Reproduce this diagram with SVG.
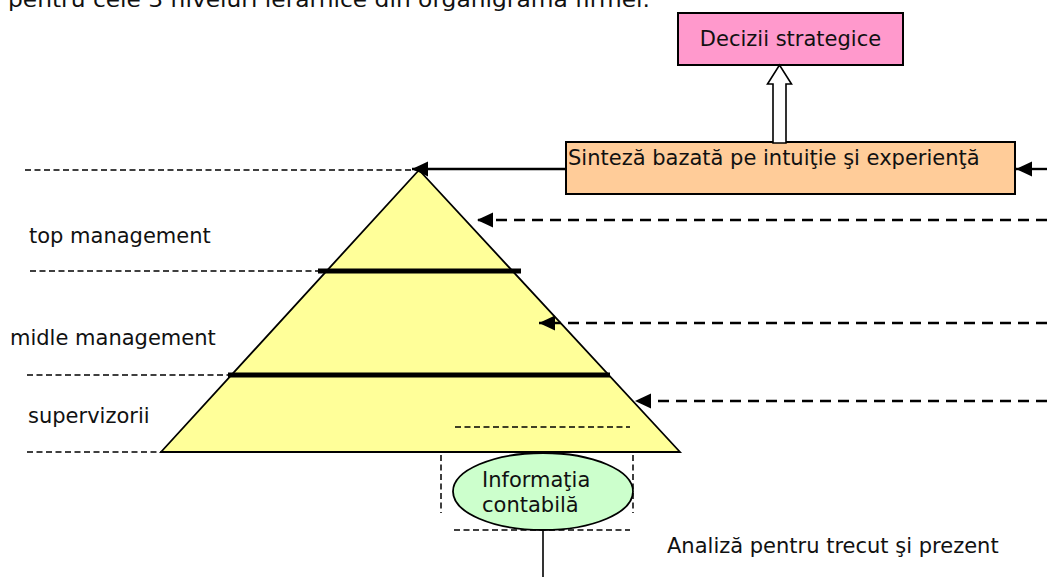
<svg xmlns="http://www.w3.org/2000/svg" width="1047" height="577" viewBox="0 0 1047 577">
  <style>
    text { font-family: "DejaVu Sans", Verdana, sans-serif; font-size: 21px; fill: #111; }
    .box { stroke: #000; stroke-width: 2; }
    .guide { fill: none; stroke: #000; stroke-width: 1.5; stroke-dasharray: 6 3.5; }
    .flow { fill: none; stroke: #000; stroke-width: 2.6; stroke-dasharray: 11 7; }
    .solid { fill: none; stroke: #000; stroke-width: 2.4; }
    .level { stroke: #000; stroke-width: 5; }
  </style>
  <defs>
    <marker id="head" markerUnits="userSpaceOnUse" markerWidth="18" markerHeight="16" refX="16" refY="7.5" orient="auto">
      <path d="M0,0 L16,7.5 L0,15 Z" fill="#000"/>
    </marker>
  </defs>
  <rect width="1047" height="577" fill="#fff"/>

  <!-- caption line running off the top edge -->
  <text x="8" y="7" font-size="23" textLength="642" lengthAdjust="spacingAndGlyphs">pentru cele 3 niveluri ierarhice din organigrama firmei.</text>

  <!-- level guides on the left -->
  <g id="guides">
    <line class="guide" x1="25" y1="170" x2="418" y2="170"/>
    <line class="guide" x1="30" y1="271" x2="320" y2="271"/>
    <line class="guide" x1="27" y1="375" x2="230" y2="375"/>
    <line class="guide" x1="27" y1="452" x2="161" y2="452"/>
  </g>

  <!-- frame round the accounting information -->
  <g id="info-frame">
    <line class="guide" x1="441" y1="455" x2="441" y2="513"/>
    <line class="guide" x1="633" y1="455" x2="633" y2="513"/>
    <line class="guide" x1="454" y1="530" x2="630" y2="530"/>
  </g>

  <g id="pyramid">
    <polygon points="419,170 161,452 680,452" fill="#FFFF99" stroke="#000" stroke-width="1.8" stroke-linejoin="miter"/>
    <line class="level" x1="318" y1="271" x2="521" y2="271"/>
    <line class="level" x1="228" y1="375" x2="610" y2="375"/>
    <line class="guide" x1="455" y1="427" x2="630" y2="427"/>
  </g>

  <g id="labels">
    <text x="29" y="243">top management</text>
    <text x="10" y="345">midle management</text>
    <text x="28" y="423">supervizorii</text>
    <text x="667" y="553">Analiză pentru trecut şi prezent</text>
  </g>

  <g id="decizii">
    <rect class="box" x="678" y="13" width="225" height="52" fill="#FF99CC"/>
    <text x="790.5" y="46" text-anchor="middle">Decizii strategice</text>
  </g>

  <g id="sinteza">
    <rect class="box" x="566" y="142" width="449" height="52" fill="#FFCC99"/>
    <text x="568" y="165">Sinteză bazată pe intuiţie şi experienţă</text>
  </g>

  <g id="informatia">
    <ellipse cx="543" cy="491.5" rx="90" ry="38.5" fill="#CCFFCC" stroke="#000" stroke-width="1.8"/>
    <text x="482" y="487">Informaţia</text>
    <text x="482" y="512">contabilă</text>
  </g>

  <g id="connectors">
    <!-- hollow block arrow up to the decisions -->
    <polygon points="773,143 773,84 767.5,84 779.5,65 791.5,84 786,84 786,143" fill="#fff" stroke="#000" stroke-width="1.6"/>
    <line class="solid" x1="566" y1="169" x2="412" y2="169" marker-end="url(#head)"/>
    <line class="solid" x1="1047" y1="169" x2="1016" y2="169" marker-end="url(#head)"/>
    <line class="flow" x1="1047" y1="220" x2="477" y2="220" marker-end="url(#head)"/>
    <line class="flow" x1="1047" y1="323" x2="539" y2="323" marker-end="url(#head)"/>
    <line class="flow" x1="1047" y1="401" x2="635" y2="401" marker-end="url(#head)"/>
    <line x1="543" y1="530" x2="543" y2="577" stroke="#000" stroke-width="1.6"/>
  </g>
</svg>
